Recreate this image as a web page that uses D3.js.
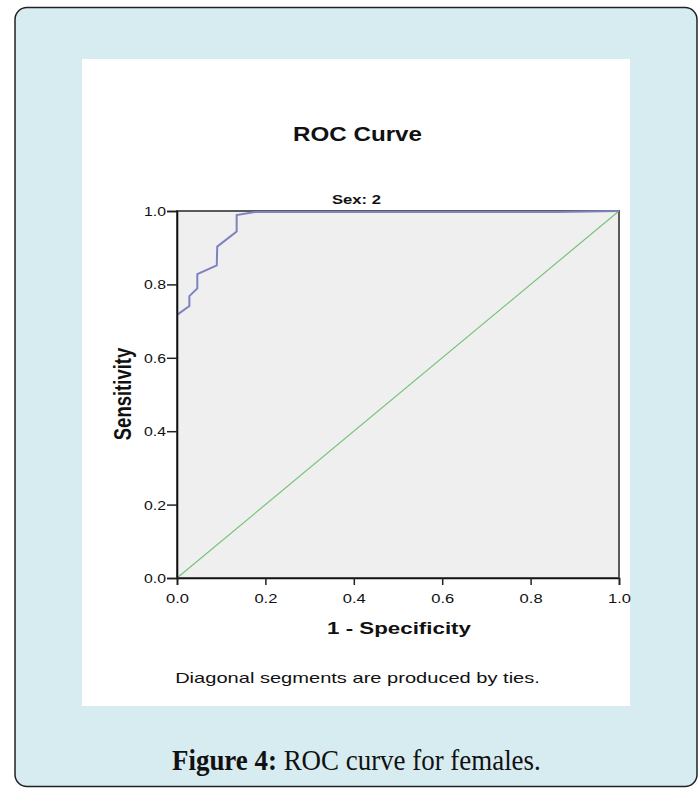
<!DOCTYPE html>
<html lang="en">
<head>
<meta charset="UTF-8">
<title>ROC curve for females</title>
<style>
	body { margin: 0; background: #fff; }
	svg text { font-family: "Liberation Sans", Arial, sans-serif; fill: #111; }
	text.caption { font-family: "Liberation Serif", "DejaVu Serif", serif; }
</style>
</head>
<body>
<svg id="fig" width="699" height="789"></svg>
<script src="https://d3js.org/d3.v7.min.js"></script>
<script>
	// ROC points
	var fpr = [0, 0.028, 0.028, 0.046, 0.046, 0.090, 0.091, 0.135, 0.135, 0.176, 0.86, 1];
	var tpr = [0.717, 0.741, 0.768, 0.789, 0.828, 0.852, 0.903, 0.944, 0.989, 0.997, 0.997, 1];
	var refLine = [0, 1];
	var tickValues = [0, 0.2, 0.4, 0.6, 0.8, 1.0];

	var svg = d3.select("#fig");

	// squeeze / stretch a text horizontally to a given width
	function fit(sel, x, y, width) {
		var w = sel.node().getComputedTextLength();
		sel.attr("x", 0).attr("y", 0)
			.attr("transform", "translate(" + x + "," + y + ") scale(" + (width / w) + ",1)");
		return sel;
	}

	// outer card and white panel
	svg.append("rect")
		.attr("x", 15).attr("y", 7.5)
		.attr("width", 682).attr("height", 779)
		.attr("rx", 12)
		.attr("fill", "#d7ecf1")
		.attr("stroke", "#222").attr("stroke-width", 1.5);

	svg.append("rect")
		.attr("x", 82).attr("y", 59)
		.attr("width", 548).attr("height", 647)
		.attr("fill", "#fff");

	var pLeft = 177, pRight = 619, pTop = 211, pBottom = 578;

	var x = d3.scaleLinear().domain([0, 1]).range([pLeft, pRight]);
	var y = d3.scaleLinear().domain([0, 1]).range([pBottom, pTop]);

	// plot area
	svg.append("rect")
		.attr("x", pLeft).attr("y", pTop)
		.attr("width", pRight - pLeft).attr("height", pBottom - pTop)
		.attr("fill", "#efeff0")
		.attr("stroke", "#5a5a5e").attr("stroke-width", 2);

	// reference diagonal
	svg.append("line")
		.attr("x1", x(refLine[0])).attr("y1", y(refLine[0]))
		.attr("x2", x(refLine[1])).attr("y2", y(refLine[1]))
		.attr("stroke", "#77c477").attr("stroke-width", 1.2);

	// ROC curve
	var line = d3.line()
		.x(function(d) { return x(d[0]); })
		.y(function(d) { return y(d[1]); });

	svg.append("path")
		.datum(d3.zip(fpr, tpr))
		.attr("d", line)
		.attr("fill", "none")
		.attr("stroke", "#7c83bf").attr("stroke-width", 2);

	// axes
	var yAxis = svg.append("g")
		.attr("transform", "translate(" + pLeft + ",0)")
		.call(d3.axisLeft(y).tickValues(tickValues).tickSize(10).tickFormat(d3.format(".1f")));
	var xAxis = svg.append("g")
		.attr("transform", "translate(0," + pBottom + ")")
		.call(d3.axisBottom(x).tickValues(tickValues).tickSize(7).tickFormat(d3.format(".1f")));

	[xAxis, yAxis].forEach(function(g) {
		g.select(".domain").attr("stroke", "#111").attr("stroke-width", 1.6);
		g.selectAll(".tick line").attr("stroke", "#222").attr("stroke-width", 1.5);
		g.selectAll(".tick text")
			.attr("font-family", "Liberation Sans, Arial, sans-serif")
			.attr("font-size", 13).attr("fill", "#333");
	});

	yAxis.selectAll(".tick text").each(function() {
		var t = d3.select(this);
		t.attr("dy", "0.35em");
		fit(t, -11, 0, 22);
	});
	xAxis.selectAll(".tick text").each(function() {
		var t = d3.select(this);
		t.attr("dy", null);
		fit(t, 0, 25, 23);
	});

	// titles
	fit(svg.append("text").attr("text-anchor", "middle")
		.attr("font-size", 19.5).attr("font-weight", "bold").text("ROC Curve"), 357.5, 141, 129);

	fit(svg.append("text").attr("text-anchor", "middle")
		.attr("font-size", 12.5).attr("font-weight", "bold").text("Sex: 2"), 356.5, 204, 49);

	fit(svg.append("text").attr("text-anchor", "middle")
		.attr("font-size", 17).attr("font-weight", "bold").text("1 - Specificity"), 399, 634, 144);

	svg.append("text")
		.attr("text-anchor", "middle")
		.attr("font-size", 18.5).attr("font-weight", "bold")
		.attr("transform", "translate(131,394) rotate(-90) scale(1,1.3)")
		.text("Sensitivity");

	fit(svg.append("text").attr("text-anchor", "middle")
		.attr("font-size", 14).attr("fill", "#222")
		.text("Diagonal segments are produced by ties."), 357.5, 683, 365);

	// figure caption
	var cap = svg.append("text")
		.attr("class", "caption")
		.attr("font-size", 29).attr("fill", "#111");
	cap.append("tspan").attr("font-weight", "bold").text("Figure 4:");
	cap.append("tspan").text(" ROC curve for females.");
	fit(cap, 172, 770, 369);
</script>
</body>
</html>
